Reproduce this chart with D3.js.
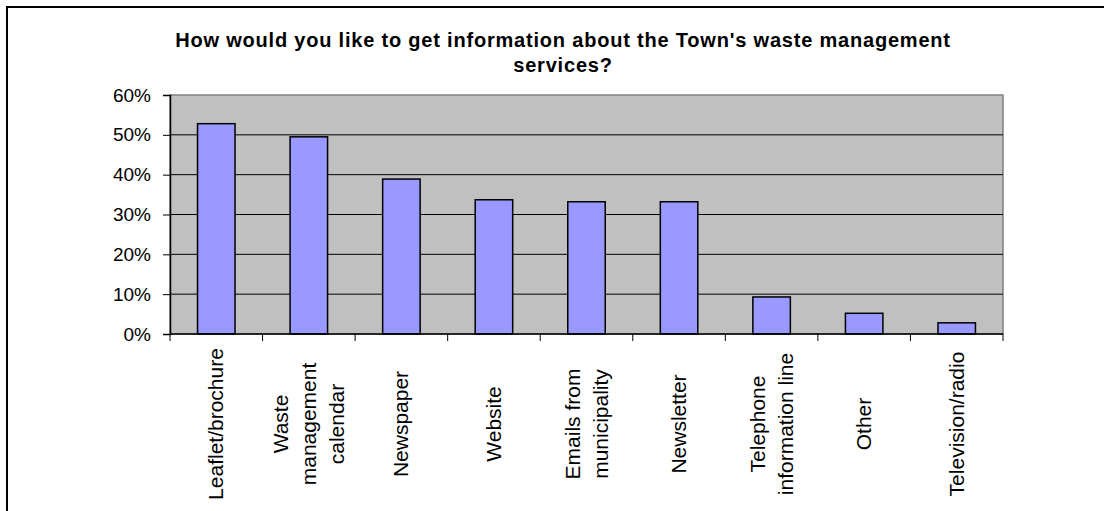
<!DOCTYPE html>
<html lang="en">
<head>
<meta charset="utf-8">
<title>waste management information</title>
<script src="https://cdn.jsdelivr.net/npm/d3@7"></script>
<style>
html, body { margin: 0; background: #fff; overflow: hidden; }
svg { display: block; }
svg text { font-family: "Liberation Sans", Arial, sans-serif; fill: #000; }
</style>
</head>
<body>
<script>

// data
var categories = ["Leaflet/brochure", "Waste\nmanagement\ncalendar", "Newspaper", "Website",
                  "Emails from\nmunicipality", "Newsletter", "Telephone\ninformation line",
                  "Other", "Television/radio"];
var values = [52.8, 49.5, 38.9, 33.7, 33.2, 33.2, 9.3, 5.2, 2.8];
var yTicks = [0, 10, 20, 30, 40, 50, 60];
var titleLines = ["How would you like to get information about the Town's waste management",
                  "services?"];

var width = 1104, height = 511;
var plot = {left: 170, right: 1003, top: 95, bottom: 334};

var svg = d3.select("body").append("svg")
    .attr("width", width)
    .attr("height", height);

// outer chart border (only top and left are inside the picture)
svg.append("rect")
    .attr("x", 7).attr("y", 7)
    .attr("width", width + 40).attr("height", height + 40)
    .attr("fill", "#fff")
    .attr("stroke", "#000")
    .attr("stroke-width", 2);

var x = d3.scaleBand()
    .domain(categories)
    .range([plot.left, plot.right])
    .paddingInner(0.595)
    .paddingOuter(0.2975);

var xTicks = d3.scaleBand()
    .domain(categories)
    .range([plot.left, plot.right]);

var y = d3.scaleLinear()
    .domain([0, 60])
    .range([plot.bottom, plot.top]);

// plot area
svg.append("rect")
    .attr("x", plot.left).attr("y", plot.top)
    .attr("width", plot.right - plot.left)
    .attr("height", plot.bottom - plot.top)
    .attr("fill", "#c0c0c0")
    .attr("stroke", "#808080")
    .attr("stroke-width", 1.5);

// gridlines
svg.append("g").selectAll("line")
    .data(yTicks.filter(function(d) { return d > 0 && d < 60; }))
    .enter().append("line")
    .attr("x1", plot.left).attr("x2", plot.right)
    .attr("y1", function(d) { return y(d); })
    .attr("y2", function(d) { return y(d); })
    .attr("stroke", "#000")
    .attr("stroke-width", 1);

// bars
svg.append("g").selectAll("rect")
    .data(values)
    .enter().append("rect")
    .attr("x", function(d, i) { return x(categories[i]); })
    .attr("y", function(d) { return y(d); })
    .attr("width", x.bandwidth())
    .attr("height", function(d) { return y(0) - y(d); })
    .attr("fill", "#9999ff")
    .attr("stroke", "#000")
    .attr("stroke-width", 1.5);

// y axis
var yAxis = svg.append("g")
    .attr("transform", "translate(" + plot.left + ",0)")
    .call(d3.axisLeft(y)
        .tickValues(yTicks)
        .tickSize(7)
        .tickPadding(12)
        .tickFormat(function(d) { return d + "%"; }));
yAxis.select(".domain").attr("stroke", "#000").attr("stroke-width", 1.5);
yAxis.selectAll(".tick line").attr("stroke", "#000");
yAxis.selectAll("text")
    .attr("font-size", 19)
    .attr("font-family", null);

// x axis
var xAxis = svg.append("g")
    .attr("transform", "translate(0," + plot.bottom + ")");
xAxis.append("line")
    .attr("x1", plot.left).attr("x2", plot.right)
    .attr("stroke", "#000").attr("stroke-width", 1.5);
xAxis.selectAll(".tk")
    .data(categories.concat(["end"]))
    .enter().append("line")
    .attr("class", "tk")
    .attr("x1", function(d, i) { return i < categories.length ? xTicks(d) : plot.right; })
    .attr("x2", function(d, i) { return i < categories.length ? xTicks(d) : plot.right; })
    .attr("y1", 0).attr("y2", 7)
    .attr("stroke", "#000");

var lineGap = 28;
var label = xAxis.selectAll(".lbl")
    .data(categories)
    .enter().append("text")
    .attr("class", "lbl")
    .attr("font-size", 21)
    .attr("text-anchor", "middle")
    .attr("transform", function(d) {
        var cx = xTicks(d) + xTicks.bandwidth() / 2;
        return "translate(" + cx + ",90) rotate(-90)";
    });
label.each(function(d) {
    var lines = d.split("\n");
    var t = d3.select(this);
    lines.forEach(function(s, j) {
        t.append("tspan")
            .attr("x", 0)
            .attr("y", (j - (lines.length - 1) / 2) * lineGap + 7)
            .text(s);
    });
});

// title
svg.append("g").selectAll("text")
    .data(titleLines)
    .enter().append("text")
    .attr("x", 563)
    .attr("y", function(d, i) { return 47 + i * 25; })
    .attr("text-anchor", "middle")
    .attr("font-weight", "bold")
    .attr("font-size", 20)
    .attr("letter-spacing", "0.8px")
    .text(function(d) { return d; });

</script>
</body>
</html>
